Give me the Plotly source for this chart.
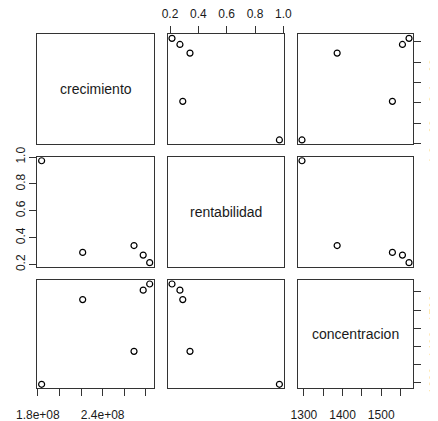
import plotly.graph_objects as go

# Data
variables = ["crecimiento", "rentabilidad", "concentracion"]
crecimiento = [1.835e8, 2.215e8, 2.69e8, 2.775e8, 2.835e8]
rentabilidad = [0.972, 0.29, 0.341, 0.27, 0.214]
concentracion = [1295, 1529, 1386, 1555, 1572]

crec_ticks = [1.8e8, 2.0e8, 2.2e8, 2.4e8, 2.6e8, 2.8e8]
crec_ticktext = ["1.8e+08", "", "", "2.4e+08", "", ""]
rent_ticks = [0.2, 0.4, 0.6, 0.8, 1.0]
rent_ticktext = ["0.2", "0.4", "0.6", "0.8", "1.0"]
conc_ticks = [1300, 1350, 1400, 1450, 1500, 1550]
conc_ticktext = ["1300", "", "1400", "", "1500", ""]

data = [crecimiento, rentabilidad, concentracion]
ticks = [(crec_ticks, crec_ticktext), (rent_ticks, rent_ticktext), (conc_ticks, conc_ticktext)]

# the page body has an 8px margin, so the figure is offset by 8px
OFF = 8
W, H = 438 - OFF, 421 - OFF
col_px = [(37.3, 154.0), (167.7, 283.7), (297.7, 413.3)]
row_px = [(34.3, 144.0), (156.7, 266.7), (280.0, 388.3)]


def rng(v):
    lo, hi = min(v), max(v)
    pad = (hi - lo) * 0.04
    return [lo - pad, hi + pad]


FONT = "Liberation Sans, Arial, sans-serif"
LINE = "#333333"
TXT = "#1a1a1a"

fig = go.Figure()
layout = dict(
    template="none",
    width=W, height=H, margin=dict(l=0, r=0, t=0, b=0, pad=0, autoexpand=False),
    paper_bgcolor="white", plot_bgcolor="white", showlegend=False,
    font=dict(family=FONT, size=12, color=TXT),
)
annotations = []
n = 3
for i in range(n):        # row
    for j in range(n):    # column
        k = i * n + j + 1
        xname = "xaxis" if k == 1 else f"xaxis{k}"
        yname = "yaxis" if k == 1 else f"yaxis{k}"
        xref = "x" if k == 1 else f"x{k}"
        yref = "y" if k == 1 else f"y{k}"
        x0, x1 = col_px[j][0] - OFF, col_px[j][1] - OFF
        y0, y1 = row_px[i][0] - OFF, row_px[i][1] - OFF
        xa = dict(domain=[x0 / W, x1 / W], range=rng(data[j]), showgrid=False,
                  zeroline=False, showline=True, mirror=True, linecolor=LINE,
                  linewidth=1, anchor=yref, showticklabels=False, ticks="",
                  fixedrange=True, automargin=False, ticklabeloverflow="allow")
        ya = dict(domain=[1 - y1 / H, 1 - y0 / H], range=rng(data[i]), showgrid=False,
                  zeroline=False, showline=True, mirror=True, linecolor=LINE,
                  linewidth=1, anchor=xref, showticklabels=False, ticks="",
                  fixedrange=True, automargin=False, ticklabeloverflow="allow")
        # x axes: column 0 & 2 at bottom of last row, column 1 at top of first row
        if i == n - 1 and j in (0, 2):
            tv, tt = ticks[j]
            xa.update(side="bottom", ticks="outside", ticklen=7, tickcolor=LINE,
                      tickvals=tv, ticktext=tt, showticklabels=True,
                      ticklabelstandoff=8)
        if i == 0 and j == 1:
            tv, tt = ticks[j]
            xa.update(side="top", ticks="outside", ticklen=7, tickcolor=LINE,
                      tickvals=tv, ticktext=tt, showticklabels=True,
                      ticklabelstandoff=4)
        # y axes: row 1 at left of first column, rows 0 & 2 at right of last column
        if j == 0 and i == 1:
            tv, tt = ticks[i]
            ya.update(side="left", ticks="outside", ticklen=7, tickcolor=LINE,
                      tickvals=tv, ticktext=tt, showticklabels=True,
                      tickangle=-90, ticklabelstandoff=0)
        if j == n - 1 and i in (0, 2):
            tv, tt = ticks[i]
            ya.update(side="right", ticks="outside", ticklen=7, tickcolor=LINE,
                      tickvals=tv, ticktext=tt, showticklabels=True,
                      tickangle=-90, ticklabelstandoff=3)
        layout[xname] = xa
        layout[yname] = ya
        if i == j:
            annotations.append(dict(
                x=(x0 + x1) / 2 / W, y=1 - (y0 + y1) / 2 / H, xref="paper", yref="paper",
                xanchor="center", yanchor="middle",
                text=variables[i], showarrow=False,
                font=dict(family=FONT, size=14, color=TXT)))
            # empty trace so the panel frame is drawn
            fig.add_trace(go.Scatter(x=[None], y=[None], mode="markers",
                                     xaxis=xref, yaxis=yref, hoverinfo="skip"))
        else:
            fig.add_trace(go.Scatter(
                x=data[j], y=data[i], mode="markers", xaxis=xref, yaxis=yref,
                marker=dict(symbol="circle-open", size=6, color="black",
                            line=dict(width=1.2, color="black")),
                hoverinfo="skip"))

layout["annotations"] = annotations
fig.update_layout(**layout)
fig.write_html("out.html")
